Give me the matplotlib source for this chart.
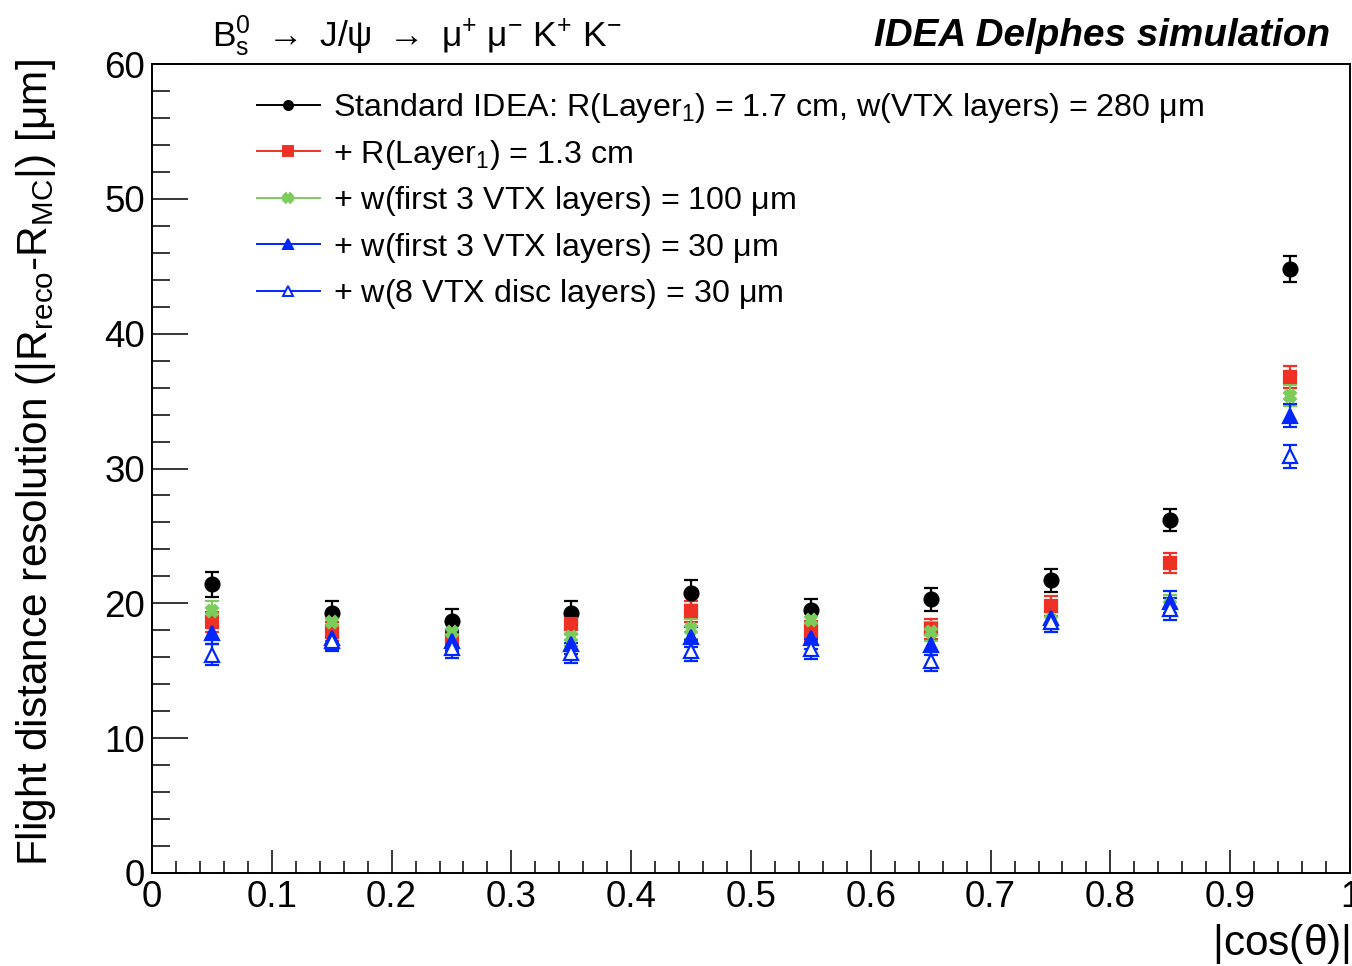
import matplotlib
matplotlib.use("Agg")
import matplotlib.pyplot as plt
from matplotlib.lines import Line2D
from matplotlib.ticker import MultipleLocator

plt.rcParams['font.family'] = ['Liberation Sans', 'DejaVu Sans']
plt.rcParams['mathtext.default'] = 'regular'

# |cos(theta)| bin centres
cos_theta = [0.05, 0.15, 0.25, 0.35, 0.45, 0.55, 0.65, 0.75, 0.85, 0.95]

# Flight distance resolution [um] for each detector configuration
res_standard = [21.4, 19.3, 18.7, 19.3, 20.8, 19.5, 20.3, 21.7, 26.2, 44.8]
err_standard = [0.95, 0.9, 0.85, 0.85, 0.9, 0.85, 0.85, 0.85, 0.8, 0.95]

res_r13 = [18.6, 17.9, 17.3, 18.5, 19.4, 17.95, 18.1, 19.8, 23.0, 36.8]
err_r13 = [0.75, 0.7, 0.7, 0.75, 0.8, 0.75, 0.75, 0.75, 0.75, 0.8]

res_w100 = [19.4, 18.6, 17.9, 17.5, 18.1, 18.8, 17.9, 18.8, 19.9, 35.4]
err_w100 = [0.75, 0.7, 0.7, 0.7, 0.75, 0.75, 0.7, 0.7, 0.7, 0.8]

res_w30 = [17.8, 17.4, 17.2, 17.0, 17.5, 17.4, 16.9, 18.9, 20.1, 33.9]
err_w30 = [0.8, 0.75, 0.75, 0.75, 0.75, 0.75, 0.75, 0.75, 0.8, 0.85]

res_disc30 = [16.2, 17.2, 16.7, 16.3, 16.5, 16.6, 15.7, 18.6, 19.6, 30.9]
err_disc30 = [0.8, 0.75, 0.75, 0.75, 0.75, 0.75, 0.75, 0.75, 0.8, 0.85]

labels = [
    r"Standard IDEA: R(Layer$_{1}$) = 1.7 cm, w(VTX layers) = 280 $\mu$m",
    r"+ R(Layer$_{1}$) = 1.3 cm",
    r"+ w(first 3 VTX layers) = 100 $\mu$m",
    r"+ w(first 3 VTX layers) = 30 $\mu$m",
    r"+ w(8 VTX disc layers) = 30 $\mu$m",
]

BLACK = "#000000"
RED = "#ee3124"
GREEN = "#7ccc5c"
BLUE = "#0027ff"

series = [
    (res_standard, err_standard, BLACK, "o", BLACK, 10),
    (res_r13, err_r13, RED, "s", RED, 9),
    (res_w100, err_w100, GREEN, "X", GREEN, 9),
    (res_w30, err_w30, BLUE, "^", BLUE, 9.5),
    (res_disc30, err_disc30, BLUE, "^", "white", 9.5),
]

W, H = 1352, 966
fig = plt.figure(figsize=(W / 100, H / 100), dpi=100)
ax = fig.add_axes([152 / W, 1 - 873 / H, (1350 - 152) / W, (873 - 64) / H])

for vals, errs, col, mk, face, ms in series:
    ax.errorbar(cos_theta, vals, yerr=errs, fmt=mk, color=col, mfc=face,
                mec=col, ms=ms, mew=1.6, elinewidth=1.6, capsize=5,
                capthick=1.6, linestyle="none")

ax.set_xlim(0, 1)
ax.set_ylim(0, 60)
ax.xaxis.set_major_locator(MultipleLocator(0.1))
ax.xaxis.set_minor_locator(MultipleLocator(0.02))
ax.yaxis.set_major_locator(MultipleLocator(10))
ax.yaxis.set_minor_locator(MultipleLocator(2))
ax.xaxis.set_major_formatter(plt.FuncFormatter(lambda v, p: f"{v:g}"))

for s in ax.spines.values():
    s.set_linewidth(1.4)

ax.tick_params(axis="both", which="both", direction="in", top=False,
               right=False, width=1.1, labelsize=26.5)
ax.tick_params(axis="x", which="major", length=16.5, pad=5)
ax.tick_params(axis="x", which="minor", length=8.5)
ax.tick_params(axis="y", which="major", length=26, pad=5)
ax.tick_params(axis="y", which="minor", length=13)

handles = []
for vals, errs, col, mk, face, ms in series:
    handles.append(Line2D([], [], color=col, marker=mk, mfc=face, mec=col,
                          ms=6.5, mew=1.4, lw=1.4))
ax.legend(handles, labels, loc="upper left",
          bbox_to_anchor=(257 / W, 1 - 91 / H),
          bbox_transform=fig.transFigure, frameon=False, fontsize=23.2,
          handlelength=1.95, handletextpad=0.4, labelspacing=0.39,
          borderpad=0, borderaxespad=0)

fig.text(212 / W, 1 - 36 / H,
         r"B$_{s}^{0}$ $\rightarrow$ J/$\psi$ $\rightarrow$ $\mu^{+}$ $\mu^{-}$ K$^{+}$ K$^{-}$",
         fontsize=25.5, ha="left", va="center")
fig.text(1330 / W, 1 - 36 / H, "IDEA Delphes simulation", fontsize=27.8,
         fontweight="bold", fontstyle="italic", ha="right", va="center")

fig.text(36 / W, 1 - 462 / H,
         r"Flight distance resolution (|R$_{reco}$-R$_{MC}$|) [$\mu$m]",
         fontsize=30.5, rotation=90, ha="center", va="center")
fig.text(1350 / W, 1 - 944 / H, r"|cos($\theta$)|", fontsize=30.5,
         ha="right", va="center")

fig.savefig("out.png", dpi=100, facecolor="white")
